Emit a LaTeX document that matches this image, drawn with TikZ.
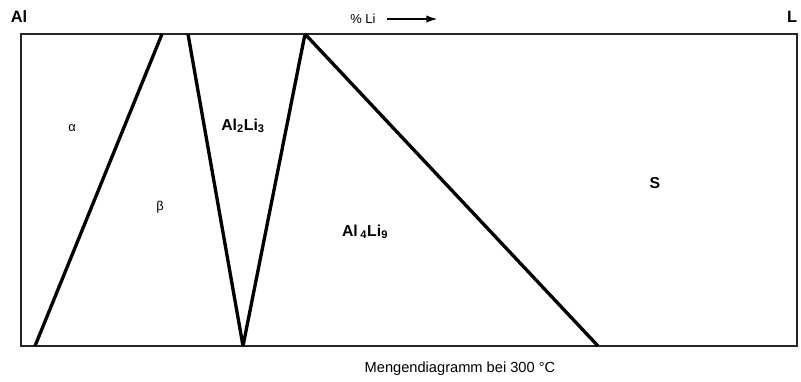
\documentclass[tikz,border=0pt]{standalone}
\usepackage{fontspec}
\setmainfont{Liberation Sans}
\usetikzlibrary{arrows.meta,positioning}

\begin{document}
\begin{tikzpicture}[
    x=0.3mm,y=-0.3mm,
    frame/.style={draw=black!85,line width=0.5mm},
    phase/.style={draw=black,line width=1mm,line join=bevel},
    lbl/.style={font=\fontsize{13.5}{15}\selectfont\bfseries,inner sep=1pt},
    greek/.style={font=\fontsize{11}{12}\selectfont,inner sep=1pt},
    arrow/.style={-{Latex[length=3.5mm,width=2.2mm]},line width=0.6mm}
  ]
    \useasboundingbox (0,0) rectangle (801,381);
    % diagram frame
    \coordinate (bl) at (21,346);
    \coordinate (tr) at (797,34);
    \draw[frame] (bl) rectangle (tr);
    % phase boundaries
    \coordinate (a1) at (35,346);
    \coordinate (a2) at (162,34);
    \coordinate (b1) at (188,34);
    \coordinate (b2) at (243,346);
    \coordinate (b3) at (305,34);
    \coordinate (b4) at (598,346);
    \draw[phase] (a1) -- (a2);
    \draw[phase] (b1) -- (b2) -- (b3) -- (b4);
    % axis labels
    \node[lbl,font=\fontsize{14}{16}\selectfont\bfseries] (al) at (19,17) {Al};
    \node[lbl,font=\fontsize{14}{16}\selectfont\bfseries] (li) at (792,17) {L};
    \node[inner sep=1pt,font=\fontsize{11}{13}\selectfont] (pct) at (363,19) {\% Li};
    \coordinate (tip) at (438,19);
    \draw[arrow] ([xshift=3mm]pct.east) -- (tip);
    % phase fields
    \node[greek] (alpha) at (72,128) {α};
    \node[greek] (beta) at (160,207) {β};
    \node[lbl] (al2li3) at (243,126) {Al\textsubscript{2}Li\textsubscript{3}};
    \node[lbl] (al4li9) at (365,232) {Al\,\textsubscript{4}Li\textsubscript{9}};
    \node[lbl] (s) at (655,183) {S};
    % caption
    \node[inner sep=1pt,font=\fontsize{12.5}{14}\selectfont] (cap) at (460,369) {Mengendiagramm bei 300 °C};
\end{tikzpicture}
\end{document}
